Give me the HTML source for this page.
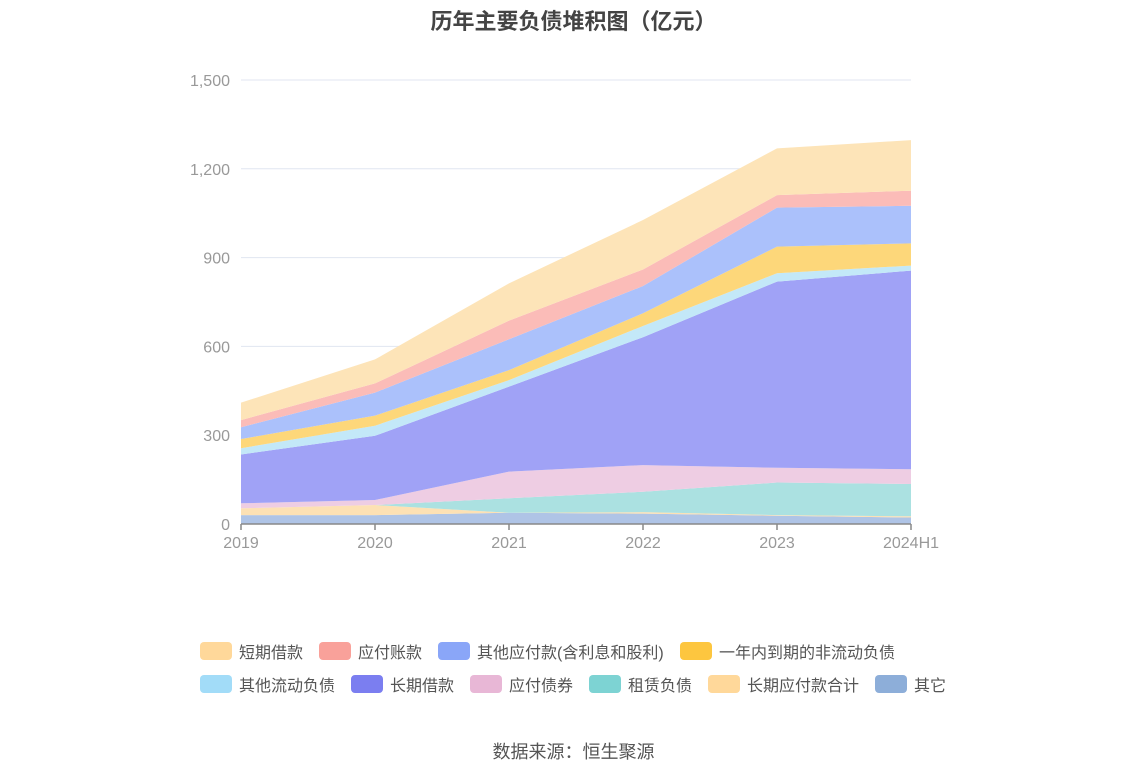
<!DOCTYPE html>
<html><head><meta charset="utf-8"><style>
body{margin:0;background:#fff;font-family:"Liberation Sans","Noto Sans CJK SC",sans-serif;}
#wrap{position:relative;width:1147px;height:776px;overflow:hidden}
.t{position:absolute;white-space:nowrap}
.leg{position:absolute;font-size:16px;color:#555;display:flex;align-items:center;height:20px}
.leg i{display:inline-block;width:32px;height:18px;border-radius:4px;margin-right:7px}
</style></head><body>
<div id="wrap">
<div class="t" style="left:0;width:1147px;text-align:center;top:4px;font-size:22px;font-weight:bold;color:#444">历年主要负债堆积图（亿元）</div>
<svg id="svg" width="1147" height="776" style="position:absolute;left:0;top:0"></svg>
<div id="legend"></div>
<div class="t" style="left:0;width:1147px;text-align:center;top:738px;font-size:18px;color:#555">数据来源：恒生聚源</div>
</div>
<script>
const categories=["2019","2020","2021","2022","2023","2024H1"];
const seriesNames=["其它","长期应付款合计","租赁负债","应付债券","长期借款","其他流动负债","一年内到期的非流动负债","其他应付款(含利息和股利)","应付账款","短期借款"];
const sOther=[30,30,38,35,28,22];
const sLongPayable=[23,34,0,5,2,4];
const sLease=[0,0,49,69,110,109];
const sBonds=[17,17,90,90,50,50];
const sLongLoan=[165,217,287,432,629,671];
const sOtherCurrent=[21,34,22,38,28,17];
const sCurrentPortion=[31,34,34,43,90,75];
const sOtherPayable=[40,78,104,92,132,127];
const sAP=[24,31,63,56,42,51];
const sShort=[59,81,126,167,158,171];
const yTicks=[0,300,600,900,1200,1500];
const yTickLabels=["0","300","600","900","1,200","1,500"];
const series=[sOther,sLongPayable,sLease,sBonds,sLongLoan,sOtherCurrent,sCurrentPortion,sOtherPayable,sAP,sShort];
const colors=["#8daed9","#ffd89a","#7dd3d3","#e8b7d6","#7b7ef0","#a2dcf8","#fdc63f","#8aa6f8","#f9a19a","#ffd89a"];
const areaColors=["#afc4e6","#fde1b4","#abe1e1","#eecde3","#a0a2f6","#c3e8f8","#fdd77a","#abc1fb","#fbbcb8","#fde4b8"];
const names=["other","long-term-payables","lease-liabilities","bonds-payable","long-term-loans","other-current-liabilities","current-portion-noncurrent","other-payables","accounts-payable","short-term-loans"];
const X0=241,X1=911,Y0=524,Y1=80;
const x=i=>X0+i*(X1-X0)/(categories.length-1);
const y=v=>Y0-(v/1500)*(Y0-Y1);
const svg=document.getElementById('svg');const NS="http://www.w3.org/2000/svg";
function mk(tag,attrs){const e=document.createElementNS(NS,tag);for(const k in attrs)e.setAttribute(k,attrs[k]);svg.appendChild(e);return e;}
yTicks.forEach((v,i)=>{
 if(v>0){const g=mk('line',{x1:X0,x2:X1,y1:y(v),y2:y(v),stroke:'#e0e6f1','stroke-width':1});
 
 }
 const t=mk('text',{x:230,y:y(v)+6,'text-anchor':'end','font-size':16,fill:'#999'});t.textContent=yTickLabels[i];
 
 
});
let base=categories.map(()=>0);
series.forEach((s,k)=>{
 const top=base.map((b,i)=>b+s[i]);
 let d='M'+top.map((v,i)=>x(i)+','+y(v)).join(' L');
 for(let i=base.length-1;i>=0;i--)d+=' L'+x(i)+','+y(base[i]);
 const p=mk('path',{d:d+'Z',fill:areaColors[k]});
 
 
 base=top;
});
const ax=mk('line',{x1:X0,x2:X1,y1:Y0,y2:Y0,stroke:'#888','stroke-width':1.5});


categories.forEach((c,i)=>{
 const tk=mk('line',{x1:x(i),x2:x(i),y1:Y0,y2:Y0+6,stroke:'#888','stroke-width':1.5});
 
 
 const t=mk('text',{x:x(i),y:548,'text-anchor':'middle','font-size':16,fill:'#999'});t.textContent=c;
 
 
});
const legendOrder=[9,8,7,6,5,4,3,2,1,0];
const legendLabels=["短期借款","应付账款","其他应付款(含利息和股利)","一年内到期的非流动负债","其他流动负债","长期借款","应付债券","租赁负债","长期应付款合计","其它"];
const legPos=[[200,641],[319,641],[438,641],[680,641],[200,674],[351,674],[470,674],[589,674],[708,674],[875,674]];
const lg=document.getElementById('legend');
legendOrder.forEach((k,j)=>{
 const d=document.createElement('div');d.className='leg';
 d.style.left=legPos[j][0]+'px';d.style.top=legPos[j][1]+'px';
 d.innerHTML='<i style="background:'+colors[k]+'"></i>'+legendLabels[j];
 
 
 lg.appendChild(d);
});
</script>
</body></html>
